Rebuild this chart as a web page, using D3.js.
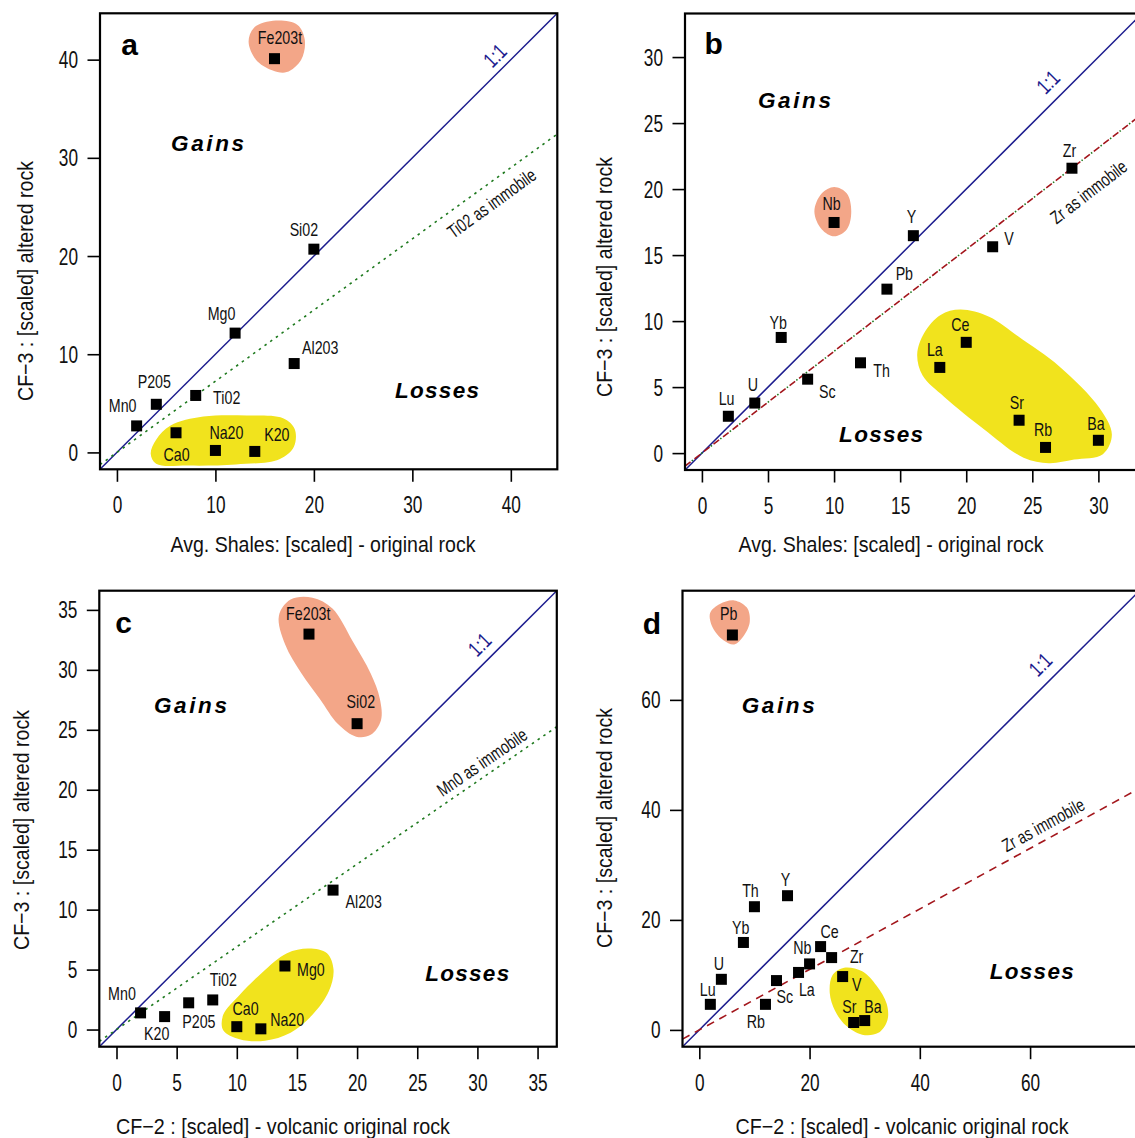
<!DOCTYPE html>
<html>
<head>
<meta charset="utf-8">
<script src="https://cdn.jsdelivr.net/npm/d3@7"></script>
<style>
body { margin: 0; background: #fff; }
text { font-family: "Liberation Sans", Arial, sans-serif; }
</style>
</head>
<body>
<svg id="fig" width="1135" height="1138"></svg>
<script>
// ---- data ----
// panel a : major elements, avg. shales vs CF-3
var aNames = ["Fe203t", "Si02", "Mg0", "Al203", "Ti02", "P205", "Mn0", "Ca0", "Na20", "K20"];
var aX = [16, 20, 12, 18, 8, 4, 2, 6, 10, 14];
var aY = [40.1, 20.7, 12.15, 9.05, 5.8, 4.9, 2.7, 2.0, 0.2, 0.1];
var aTicks = [0, 10, 20, 30, 40];
var aSlope = 0.725;   // TiO2 as immobile

// panel b : trace elements, avg. shales vs CF-3
var bNames = ["Nb", "Y", "Zr", "V", "Pb", "Yb", "Ce", "La", "Th", "Sc", "U", "Lu", "Sr", "Rb", "Ba"];
var bX = [10, 16, 28, 22, 14, 6, 20, 18, 12, 8, 4, 2, 24, 26, 30];
var bY = [17.47, 16.47, 21.58, 15.63, 12.42, 8.76, 8.39, 6.49, 6.84, 5.6, 3.79, 2.79, 2.49, 0.43, 0.97];
var bTicks = [0, 5, 10, 15, 20, 25, 30];
var bSlope = 0.771;   // Zr as immobile

// panel c : major elements, CF-2 vs CF-3
var cNames = ["Fe203t", "Si02", "Al203", "Mg0", "Ti02", "P205", "Mn0", "K20", "Ca0", "Na20"];
var cX = [16, 20, 18, 14, 8, 6, 2, 4, 10, 12];
var cY = [32.98, 25.51, 11.63, 5.3, 2.47, 2.23, 1.39, 1.08, 0.24, 0.06];
var cTicks = [0, 5, 10, 15, 20, 25, 30, 35];
var cSlope = 0.69;    // MnO as immobile

// panel d : trace elements, CF-2 vs CF-3
var dNames = ["Pb", "Y", "Th", "Yb", "Ce", "Zr", "Nb", "La", "U", "Sc", "V", "Lu", "Rb", "Sr", "Ba"];
var dX = [6, 16, 10, 8, 22, 24, 20, 18, 4, 14, 26, 2, 12, 28, 30];
var dY = [71.8, 24.4, 22.4, 15.9, 15.15, 13.15, 12.0, 10.45, 9.2, 8.97, 9.7, 4.65, 4.65, 1.35, 1.7];
var dTicks = [0, 20, 40, 60];
var dSlope = 0.55;    // Zr as immobile

var titleX1 = "Avg. Shales: [scaled] - original rock";
var titleX2 = "CF\u22122 : [scaled] - volcanic original rock";
var titleY = "CF\u22123 : [scaled] altered rock";

// ---- placement of labels (pixel offsets from each point) ----
var aOffsets = [[5.5, -20.5], [-10, -19], [-13.5, -19], [26, -15.5], [31, 2], [-2, -23], [-14, -20], [0.5, 22], [11, -18], [22, -17]];
var bOffsets = [[-2.5, -18.3], [-1.8, -19], [-2.5, -17.6], [16.3, -7.6], [17.4, -15.5], [-2.9, -14.7], [-5.8, -18], [-5, -18],
                [21, 7.6], [19.6, 12.6], [-1.8, -18], [-1.8, -17], [-2.2, -17], [-2.5, -17.3], [-2.5, -16.5]];
var cOffsets = [[-0.7, -20.5], [3.7, -21.6], [30.7, 11.7], [26, 3.7], [10.6, -19.7], [10.2, 18.6], [-18.6, -19], [-8, 17.2], [8.8, -17.5], [26.3, -9.5]];
var dOffsets = [[-3.6, -21], [-2, -15.7], [-4, -16], [-2.7, -14.4], [9, -15], [25, -1], [-7.3, -15.7], [8.3, 17.3],
                [-2.4, -16], [8.3, 16.6], [14, 8.3], [-2.7, -14.7], [-9.7, 17], [-4.4, -16], [8.3, -14]];

// highlight outlines (hand drawn in the original), in data units
var aBlobRed = [[13.92, 43.26], [16.13, 43.98], [18.34, 43.54], [19.08, 41.99], [18.71, 40.0], [17.24, 38.73], [15.76, 38.92], [14.11, 40.0], [13.37, 41.81]];
var aBlobYellow = [[5.45, 2.75], [8.77, 3.65], [13.19, 3.76], [16.87, 3.47], [18.05, 2.39], [17.97, 0.58], [16.5, -0.69], [12.08, -1.23], [7.29, -1.34], [3.98, -1.16], [3.43, -0.14], [3.98, 1.3]];
var bBlobRed = [[9.06, 19.66], [10.01, 20.15], [10.97, 19.66], [11.3, 18.31], [10.97, 16.96], [10.01, 16.42], [9.06, 16.96], [8.51, 18.31]];
var bBlobYellow = [[19.56, 10.87], [21.73, 10.33], [23.92, 8.85], [27.07, 6.55], [30.07, 3.44], [31.02, 1.41], [30.34, -0.08], [28.16, -0.49],
                   [26.25, -0.76], [24.34, -0.35], [21.34, 1.81], [18.34, 4.25], [16.7, 5.87], [16.29, 7.49], [16.83, 9.12], [18.06, 10.47]];
var cBlobRed = [[14.47, 35.87], [16.29, 36.02], [17.95, 35.12], [19.62, 32.41], [21.13, 29.7], [21.89, 27.59], [21.98, 25.78], [21.13, 24.58],
                [19.92, 24.43], [18.41, 25.48], [16.89, 27.59], [15.38, 29.7], [14.02, 32.11], [13.5, 34.52]];
var cBlobYellow = [[15.99, 6.75], [17.5, 6.36], [18.04, 5.0], [17.65, 3.19], [16.29, 1.23], [14.47, -0.27], [12.35, -0.93], [10.23, -0.81],
                   [8.87, -0.06], [8.87, 1.23], [10.23, 2.89], [12.05, 4.7], [14.17, 6.36]];
var dBlobRed = [[3.73, 77.43], [6.34, 78.09], [8.63, 76.78], [9.15, 74.15], [7.97, 71.51], [6.34, 70.07], [4.38, 70.86], [2.42, 73.16], [1.96, 75.79]];
var dBlobYellow = [[26.27, 11.32], [29.54, 10.66], [32.16, 8.03], [33.99, 4.74], [34.12, 1.78], [32.48, -0.53], [29.54, -0.86], [26.6, 0.79],
                   [24.64, 3.42], [23.66, 6.71], [24.18, 10.0]];

var BLUE = "#1c1c8e", GREEN = "#1f7a1f", RED = "#a3161c", SALMON = "#f3a688", YELLOW = "#f1e31d";
var NARROW = 0.75;   // horizontal squeeze to imitate the condensed face of the original

var panels = [
  { id: "a", box: [100, 13.3, 457.3, 456], dom: [-1.72, 44.72], names: aNames, xs: aX, ys: aY, offs: aOffsets, ticks: aTicks,
    slope: aSlope, style: "green", immText: "Ti02 as immobile", immPos: [38.05, 25.4], onePos: [38.4, 40.4],
    gains: [9.2, 31.5], losses: [32.5, 6.3], letterPos: [129.7, 54.5],
    blobs: [[aBlobRed, SALMON], [aBlobYellow, YELLOW]],
    xTitle: titleX1, xTitlePos: [323, 544], xLen: 305, yTitlePos: [25, 281] },
  { id: "b", box: [685, 13.5, 457, 456.5], dom: [-1.28, 33.3], names: bNames, xs: bX, ys: bY, offs: bOffsets, ticks: bTicks,
    slope: bSlope, style: "redgreen", immText: "Zr as immobile", immPos: [29.25, 19.8], onePos: [26.2, 28.1],
    gains: [7.0, 26.7], losses: [13.56, 1.4], letterPos: [713.6, 54],
    blobs: [[bBlobRed, SALMON], [bBlobYellow, YELLOW]],
    xTitle: titleX1, xTitlePos: [891, 544], xLen: 305, yTitlePos: [604.5, 277] },
  { id: "c", box: [99.3, 590.7, 457.5, 456], dom: [-1.43, 36.6], names: cNames, xs: cX, ys: cY, offs: cOffsets, ticks: cTicks,
    slope: cSlope, style: "green", immText: "Mn0 as immobile", immPos: [30.37, 22.32], onePos: [30.2, 32.1],
    gains: [6.15, 27.0], losses: [29.15, 4.7], letterPos: [123.5, 632.6],
    blobs: [[cBlobRed, SALMON], [cBlobYellow, YELLOW]],
    xTitle: titleX2, xTitlePos: [283, 1126], xLen: 334, yTitlePos: [21, 830] },
  { id: "d", box: [682.5, 590.7, 457, 456], dom: [-3.05, 79.85], names: dNames, xs: dX, ys: dY, offs: dOffsets, ticks: dTicks,
    slope: dSlope, style: "red", immText: "Zr as immobile", immPos: [62.35, 37.3], onePos: [61.9, 66.4],
    gains: [14.3, 58.9], losses: [60.3, 10.66], letterPos: [652, 633.6],
    blobs: [[dBlobRed, SALMON], [dBlobYellow, YELLOW]],
    xTitle: titleX2, xTitlePos: [902, 1126], xLen: 333, yTitlePos: [604, 828] }
];

var svg = d3.select("#fig");

function drawPanel(p) {
  var x = d3.scaleLinear().domain(p.dom).range([p.box[0], p.box[0] + p.box[2]]);
  var y = d3.scaleLinear().domain(p.dom).range([p.box[1] + p.box[3], p.box[1]]);
  var g = svg.append("g").attr("id", "panel-" + p.id);

  svg.append("clipPath").attr("id", "clip-" + p.id)
    .append("rect").attr("x", p.box[0]).attr("y", p.box[1]).attr("width", p.box[2]).attr("height", p.box[3]);
  var plot = g.append("g").attr("clip-path", "url(#clip-" + p.id + ")");

  // highlighted groups
  var blobLine = d3.line().x(function(d) { return x(d[0]); }).y(function(d) { return y(d[1]); })
    .curve(d3.curveCatmullRomClosed.alpha(0.5));
  p.blobs.forEach(function(b) {
    plot.append("path").attr("d", blobLine(b[0])).attr("fill", b[1]);
  });

  // 1:1 line
  plot.append("line")
    .attr("x1", x(p.dom[0])).attr("y1", y(p.dom[0]))
    .attr("x2", x(p.dom[1])).attr("y2", y(p.dom[1]))
    .attr("stroke", BLUE).attr("stroke-width", 1.5);

  // immobile element line
  var ix1 = x(p.dom[0]), iy1 = y(p.dom[0] * p.slope), ix2 = x(p.dom[1]), iy2 = y(p.dom[1] * p.slope);
  function immLine(color, dash, offset) {
    plot.append("line").attr("x1", ix1).attr("y1", iy1).attr("x2", ix2).attr("y2", iy2)
      .attr("stroke", color).attr("stroke-width", 1.6)
      .attr("stroke-dasharray", dash).attr("stroke-dashoffset", offset || 0);
  }
  if (p.style == "green") immLine(GREEN, "2.5 4.5");
  if (p.style == "red") immLine(RED, "8 6");
  if (p.style == "redgreen") {
    immLine(RED, "7 5");
    immLine(GREEN, "1.5 10.5", -8.5);
  }

  // points
  var idx = d3.range(p.names.length);
  plot.selectAll("rect.pt").data(idx).enter().append("rect")
    .attr("x", function(i) { return x(p.xs[i]) - 5.5; })
    .attr("y", function(i) { return y(p.ys[i]) - 5.5; })
    .attr("width", 11).attr("height", 11).attr("fill", "#000");

  // point labels
  g.selectAll("text.lab").data(idx).enter().append("text")
    .attr("transform", function(i) {
      return "translate(" + (x(p.xs[i]) + p.offs[i][0]) + "," + (y(p.ys[i]) + p.offs[i][1]) + ") scale(" + NARROW + ",1)";
    })
    .attr("text-anchor", "middle").attr("dominant-baseline", "central")
    .attr("font-size", 19).attr("fill", "#111")
    .text(function(i) { return p.names[i]; });

  // line captions
  var angOne = Math.atan2(y(1) - y(0), x(1) - x(0)) * 180 / Math.PI;
  var angImm = Math.atan2(iy2 - iy1, ix2 - ix1) * 180 / Math.PI;
  g.append("text")
    .attr("transform", "translate(" + x(p.onePos[0]) + "," + y(p.onePos[1]) + ") rotate(" + angOne + ") scale(" + NARROW + ",1)")
    .attr("text-anchor", "middle").attr("dominant-baseline", "central")
    .attr("font-size", 21.5).attr("fill", BLUE).text("1:1");
  g.append("text")
    .attr("transform", "translate(" + x(p.immPos[0]) + "," + y(p.immPos[1]) + ") rotate(" + angImm + ") scale(" + NARROW + ",1)")
    .attr("text-anchor", "middle").attr("dominant-baseline", "central")
    .attr("font-size", 18.5).attr("fill", "#111").text(p.immText);

  // Gains / Losses
  [["Gains", p.gains, 73], ["Losses", p.losses, 84]].forEach(function(t) {
    g.append("text").attr("x", x(t[1][0]) - t[2] / 2).attr("y", y(t[1][1]))
      .attr("dominant-baseline", "central")
      .attr("textLength", t[2]).attr("lengthAdjust", "spacing")
      .attr("font-size", 22.5).attr("font-weight", "bold").attr("font-style", "italic")
      .text(t[0]);
  });

  // panel letter
  g.append("text").attr("x", p.letterPos[0]).attr("y", p.letterPos[1])
    .attr("text-anchor", "middle")
    .attr("font-size", 30).attr("font-weight", "bold").text(p.id);

  // axes
  var gx = g.append("g").attr("transform", "translate(0," + (p.box[1] + p.box[3]) + ")")
    .call(d3.axisBottom(x).tickValues(p.ticks).tickSize(12.5).tickFormat(d3.format("d")));
  var gy = g.append("g").attr("transform", "translate(" + p.box[0] + ",0)")
    .call(d3.axisLeft(y).tickValues(p.ticks).tickSize(12.5).tickFormat(d3.format("d")));
  [gx, gy].forEach(function(a) {
    a.select(".domain").remove();
    a.attr("font-size", 23).attr("font-family", null);
    a.selectAll("line").attr("stroke", "#000").attr("stroke-width", 1.6);
    a.selectAll("text").attr("fill", "#111").attr("x", 0).attr("y", 0).attr("dy", "0.35em");
  });
  gx.selectAll("text").attr("transform", "translate(0,36) scale(" + NARROW + ",1)");
  gy.selectAll("text").attr("transform", "translate(-22,0) scale(" + NARROW + ",1)");

  // frame
  g.append("rect").attr("x", p.box[0]).attr("y", p.box[1]).attr("width", p.box[2]).attr("height", p.box[3])
    .attr("fill", "none").attr("stroke", "#000").attr("stroke-width", 2.2);

  // axis titles
  g.append("text").attr("x", p.xTitlePos[0] - p.xLen / 2).attr("y", p.xTitlePos[1])
    .attr("dominant-baseline", "central").attr("font-size", 22).attr("fill", "#111")
    .attr("textLength", p.xLen).attr("lengthAdjust", "spacingAndGlyphs").text(p.xTitle);
  g.append("text")
    .attr("transform", "translate(" + p.yTitlePos[0] + "," + p.yTitlePos[1] + ") rotate(-90)")
    .attr("x", -120).attr("dominant-baseline", "central").attr("font-size", 22).attr("fill", "#111")
    .attr("textLength", 240).attr("lengthAdjust", "spacingAndGlyphs").text(titleY);
}

panels.forEach(drawPanel);
</script>
</body>
</html>
